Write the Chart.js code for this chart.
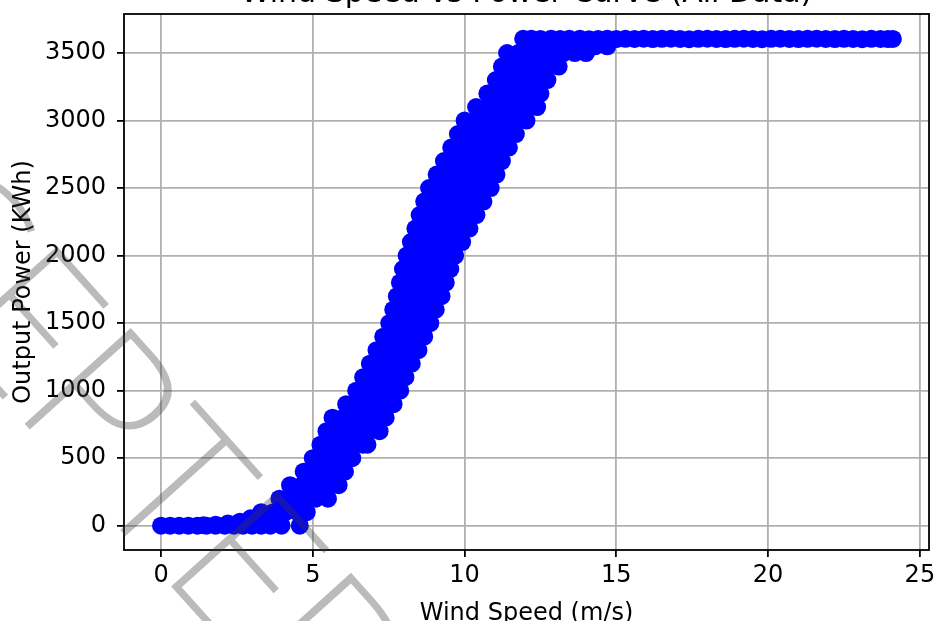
<!DOCTYPE html>
<html>
<head>
<meta charset="utf-8">
<script src="https://cdn.jsdelivr.net/npm/chart.js@4.4.0/dist/chart.umd.min.js"></script>
<style>
  html, body { margin: 0; padding: 0; background: #fff; }
  canvas { display: block; }
</style>
</head>
<body>
<canvas id="chart" width="938" height="621"></canvas>
<script>
// texts
var titleText = 'Wind Speed vs Power Curve (All Data)';
var xLabel = 'Wind Speed (m/s)';
var yLabel = 'Output Power (KWh)';
var stampText = 'ACCEPTED';

// axis ticks
var xTicks = [0, 5, 10, 15, 20, 25];
var yTicks = [0, 500, 1000, 1500, 2000, 2500, 3000, 3500];

// idle part : turbine not producing
var idleSpeed = [0, 0.3, 0.6, 0.9, 1.2, 1.5, 1.8, 2.1, 2.4, 2.7, 3.0, 3.3, 3.6, 3.97, 4.57];
var idlePower = [0, 0, 0, 0, 0, 0, 0, 0, 0, 0, 0, 0, 0, 0, 0];

// start of the ramp
var lowSpeed = [1.4, 1.8, 2.2, 2.6, 2.95];
var lowPower = [4, 8, 16, 30, 55];

// main band, read row by row (power level -> wind speeds seen at that level)
var bandPower = [100, 200, 300, 400, 500, 600, 700, 800, 900, 1000, 1100, 1200, 1300, 1400,
  1500, 1600, 1700, 1800, 1900, 2000, 2100, 2200, 2300, 2400, 2500, 2600, 2700, 2800,
  2900, 3000, 3100, 3200, 3300, 3400, 3500, 3550];
var bandSpeed = [
  [3.3, 3.7, 4.1, 4.5, 4.8],
  [3.9, 4.3, 4.7, 5.1, 5.5],
  [4.25, 4.65, 5.05, 5.45, 5.85],
  [4.7, 5.05, 5.4, 5.75, 6.06],
  [5.0, 5.35, 5.7, 6.05, 6.3],
  [5.25, 5.6, 5.95, 6.3, 6.65, 6.8],
  [5.45, 5.8, 6.15, 6.5, 6.85, 7.2],
  [5.65, 6.0, 6.35, 6.7, 7.05, 7.4],
  [6.1, 6.45, 6.8, 7.15, 7.5, 7.66],
  [6.43, 6.78, 7.13, 7.48, 7.88],
  [6.66, 7.0, 7.35, 7.7, 8.05],
  [6.88, 7.23, 7.58, 7.93, 8.26],
  [7.1, 7.45, 7.8, 8.15, 8.48],
  [7.32, 7.66, 8.0, 8.34, 8.67],
  [7.52, 7.86, 8.2, 8.54, 8.87],
  [7.65, 8.0, 8.35, 8.7, 9.05],
  [7.77, 8.14, 8.5, 8.87, 9.24],
  [7.87, 8.25, 8.63, 9.0, 9.38],
  [7.97, 8.36, 8.75, 9.14, 9.53],
  [8.09, 8.41, 8.73, 9.05, 9.37, 9.69],
  [8.23, 8.57, 8.91, 9.24, 9.58, 9.92],
  [8.38, 8.74, 9.09, 9.45, 9.8, 10.16],
  [8.52, 8.89, 9.27, 9.64, 10.02, 10.39],
  [8.67, 9.06, 9.45, 9.84, 10.23, 10.62],
  [8.83, 9.24, 9.64, 10.05, 10.45, 10.86],
  [9.08, 9.47, 9.87, 10.26, 10.66, 11.05],
  [9.32, 9.7, 10.08, 10.47, 10.85, 11.23],
  [9.56, 9.94, 10.32, 10.7, 11.08, 11.46],
  [9.78, 10.16, 10.54, 10.93, 11.31, 11.69],
  [10.0, 10.41, 10.82, 11.22, 11.63, 12.04],
  [10.38, 10.78, 11.18, 11.59, 11.99, 12.39],
  [10.75, 11.1, 11.45, 11.8, 12.15, 12.5],
  [11.03, 11.37, 11.71, 12.05, 12.39, 12.73],
  [11.23, 11.6, 11.98, 12.35, 12.73, 13.1],
  [11.4, 11.77, 12.14, 12.51, 12.89, 13.26, 13.63, 14.0],
  [13.4, 14.3, 14.7]
];

// rated power plateau
var ratedSpeed = [11.93, 12.2, 12.5, 12.85, 13.15, 13.45, 13.8, 14.1, 14.4, 14.7, 15.0, 15.3,
  15.6, 15.9, 16.2, 16.5, 16.8, 17.1, 17.4, 17.7, 18.0, 18.3, 18.6, 18.9, 19.2, 19.5,
  19.8, 20.1, 20.4, 20.7, 21.0, 21.3, 21.6, 21.9, 22.2, 22.5, 22.8, 23.1, 23.4, 23.7,
  23.95, 24.11];
var ratedPower = [3605, 3606, 3604, 3606, 3603, 3605, 3606, 3602, 3604, 3606, 3603, 3605,
  3604, 3606, 3603, 3605, 3606, 3604, 3602, 3605, 3606, 3604, 3603, 3605, 3606, 3604,
  3602, 3605, 3606, 3604, 3603, 3605, 3606, 3604, 3603, 3605, 3604, 3602, 3605, 3604,
  3603, 3604];

var points = [];
idleSpeed.forEach(function(s, i) { points.push({x: s, y: idlePower[i]}); });
lowSpeed.forEach(function(s, i) { points.push({x: s, y: lowPower[i]}); });
bandPower.forEach(function(p, i) {
  bandSpeed[i].forEach(function(s) { points.push({x: s, y: p}); });
});
ratedSpeed.forEach(function(s, i) { points.push({x: s, y: ratedPower[i]}); });

// spines, axis labels, title and watermark
var overlay = {
  id: 'overlay',
  afterDraw: function(chart) {
    var ctx = chart.ctx;
    var a = chart.chartArea;
    ctx.save();
    ctx.strokeStyle = '#000';
    ctx.lineWidth = 1.8;
    ctx.strokeRect(a.left, a.top, a.right - a.left, a.bottom - a.top);

    ctx.fillStyle = '#000';
    ctx.textAlign = 'center';
    ctx.textBaseline = 'alphabetic';
    ctx.font = '30px "DejaVu Sans"';
    ctx.fillText(titleText, (a.left + a.right) / 2, 2);
    ctx.font = '24px "DejaVu Sans"';
    ctx.fillText(xLabel, (a.left + a.right) / 2, 620);
    ctx.translate(30, (a.top + a.bottom) / 2);
    ctx.rotate(-Math.PI / 2);
    ctx.fillText(yLabel, 0, 0);
    ctx.restore();

    // watermark: drawn opaque on its own layer, then laid over with transparency
    var layer = document.createElement('canvas');
    layer.width = chart.width;
    layer.height = chart.height;
    var lc = layer.getContext('2d');
    lc.font = '200 200px "Noto Sans"';
    var w1 = lc.measureText('ACCEP').width;
    var wT = lc.measureText('T').width;
    var ang = 48 * Math.PI / 180;
    var d = w1 + wT / 2;
    lc.translate(123 - d * Math.cos(ang), 533 - d * Math.sin(ang));
    lc.rotate(ang);
    lc.fillStyle = '#3a3a3a';
    lc.textAlign = 'left';
    lc.textBaseline = 'alphabetic';
    lc.fillText(stampText, 0, 0);
    ctx.save();
    ctx.globalAlpha = 0.345;
    ctx.drawImage(layer, 0, 0);
    ctx.restore();
  }
};

var tickFont = {family: 'DejaVu Sans', size: 24};
function plain(v) { return String(v); }

var ctx = document.getElementById('chart').getContext('2d');
window.myChart = new Chart(ctx, {
  type: 'scatter',
  data: {
    datasets: [{
      data: points,
      backgroundColor: '#0000ff',
      borderWidth: 0,
      pointRadius: 9,
      pointHoverRadius: 9
    }]
  },
  options: {
    responsive: false,
    animation: false,
    devicePixelRatio: 1,
    layout: {padding: {left: 0, right: 5, top: 14, bottom: 0}},
    plugins: {legend: {display: false}, tooltip: {enabled: false}},
    scales: {
      x: {
        type: 'linear',
        position: 'bottom',
        min: -1.22,
        max: 25.3,
        bounds: 'data',
        z: 1,
        afterBuildTicks: function(s) { s.ticks = xTicks.map(function(v) { return {value: v}; }); },
        ticks: {color: '#000', font: tickFont, padding: 4, maxRotation: 0, autoSkip: false, callback: plain},
        grid: {color: '#b0b0b0', lineWidth: 1.8, tickColor: '#000', tickLength: 7, tickWidth: 1.8},
        border: {display: false},
        afterFit: function(s) { s.height = 71; s.paddingLeft = 0; s.paddingRight = 0; }
      },
      y: {
        type: 'linear',
        position: 'left',
        min: -179.7,
        max: 3789,
        bounds: 'data',
        z: 1,
        afterBuildTicks: function(s) { s.ticks = yTicks.map(function(v) { return {value: v}; }); },
        ticks: {color: '#000', font: tickFont, padding: 11, autoSkip: false, callback: plain},
        grid: {color: '#b0b0b0', lineWidth: 1.8, tickColor: '#000', tickLength: 7, tickWidth: 1.8},
        border: {display: false},
        afterFit: function(s) { s.width = 124; s.paddingTop = 0; s.paddingBottom = 0; }
      }
    }
  },
  plugins: [overlay]
});
</script>
</body>
</html>
